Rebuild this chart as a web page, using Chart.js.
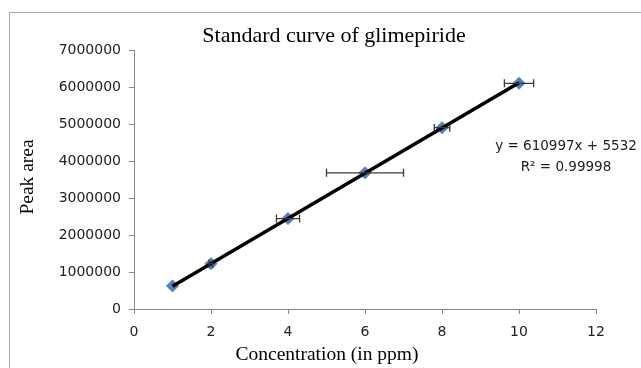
<!DOCTYPE html>
<html>
<head>
<meta charset="utf-8">
<script src="https://cdn.jsdelivr.net/npm/chart.js@4/dist/chart.umd.min.js"></script>
<style>
html,body{margin:0;padding:0;background:#fff;}
#wrap{width:641px;height:368px;position:relative;}
</style>
</head>
<body>
<div id="wrap"><canvas id="c" width="641" height="368"></canvas></div>
<script>
// Data
const concentrations = [1, 2, 4, 6, 8, 10];
const peakAreas = [625000, 1225000, 2445000, 3680000, 4900000, 6100000];
const xErrors = [0, 0.05, 0.3, 1.0, 0.2, 0.38];
const trendX = [1, 10];
const trendY = [616529, 6115502];
const xTicks = [0, 2, 4, 6, 8, 10, 12];
const yTicks = [0, 1000000, 2000000, 3000000, 4000000, 5000000, 6000000, 7000000];
const titleText = 'Standard curve of glimepiride';
const xTitle = 'Concentration (in ppm)';
const yTitle = 'Peak area';
const equationLines = ['y = 610997x + 5532', 'R² = 0.99998'];

const AXIS_GRAY = '#868686';
const TICK_FONT = {family: 'DejaVu Sans', size: 14};

const decorPlugin = {
  id: 'decor',
  beforeDraw(chart) {
    const ctx = chart.ctx;
    ctx.save();
    ctx.fillStyle = '#fff';
    ctx.fillRect(0, 0, chart.width, chart.height);
    ctx.strokeStyle = '#a6a6a6';
    ctx.lineWidth = 1;
    ctx.strokeRect(9.5, 12.5, 700, 400);
    ctx.restore();
  },
  afterDraw(chart) {
    const ctx = chart.ctx;
    ctx.save();
    ctx.fillStyle = '#000';
    ctx.textAlign = 'center';
    ctx.textBaseline = 'middle';
    ctx.font = '22px "Liberation Serif"';
    ctx.fillText(titleText, 334, 36);
    ctx.font = '19.5px "Liberation Serif"';
    ctx.fillText(xTitle, 327, 355);
    ctx.save();
    ctx.translate(28, 177);
    ctx.rotate(-Math.PI / 2);
    ctx.fillText(yTitle, 0, 0);
    ctx.restore();
    ctx.font = '13.5px "DejaVu Sans"';
    ctx.fillStyle = '#222';
    ctx.fillText(equationLines[0], 566, 146);
    ctx.fillText(equationLines[1], 566, 167);
    ctx.restore();
  }
};

const errorBarPlugin = {
  id: 'errorBars',
  afterDatasetsDraw(chart) {
    const xs = chart.scales.x, ys = chart.scales.y;
    const ctx = chart.ctx;
    ctx.save();
    ctx.strokeStyle = '#3a3a3a';
    ctx.lineWidth = 1.3;
    concentrations.forEach((c, i) => {
      const e = xErrors[i];
      if (!e) return;
      const y = ys.getPixelForValue(peakAreas[i]);
      const x1 = xs.getPixelForValue(c - e);
      const x2 = xs.getPixelForValue(c + e);
      ctx.beginPath();
      ctx.moveTo(x1, y); ctx.lineTo(x2, y);
      ctx.moveTo(x1, y - 4); ctx.lineTo(x1, y + 4);
      ctx.moveTo(x2, y - 4); ctx.lineTo(x2, y + 4);
      ctx.stroke();
    });
    ctx.restore();
  }
};

new Chart(document.getElementById('c'), {
  type: 'scatter',
  data: {
    datasets: [
      {
        type: 'line',
        label: 'Trend',
        data: trendX.map((x, i) => ({x: x, y: trendY[i]})),
        borderColor: '#000',
        borderWidth: 3.5,
        pointRadius: 0,
        fill: false,
        order: 0
      },
      {
        label: 'Peak area',
        data: concentrations.map((x, i) => ({x: x, y: peakAreas[i]})),
        pointStyle: 'rectRot',
        pointRadius: 6,
        backgroundColor: '#4F81BD',
        borderColor: '#4F81BD',
        borderWidth: 1,
        order: 1
      }
    ]
  },
  options: {
    responsive: false,
    animation: false,
    layout: {padding: {top: 50, right: 45, left: 0, bottom: 0}},
    plugins: {legend: {display: false}, tooltip: {enabled: false}, title: {display: false}},
    scales: {
      x: {
        type: 'linear',
        min: 0, max: 12,
        afterBuildTicks(s) { s.ticks = xTicks.map(v => ({value: v})); },
        afterFit(s) { s.height = 59; },
        border: {color: AXIS_GRAY, width: 1},
        grid: {display: true, drawOnChartArea: false, drawTicks: true, tickLength: 5, color: AXIS_GRAY},
        ticks: {color: '#222', font: TICK_FONT, padding: 10, maxRotation: 0, callback: v => String(v)}
      },
      y: {
        type: 'linear',
        min: 0, max: 7000000,
        afterBuildTicks(s) { s.ticks = yTicks.map(v => ({value: v})); },
        afterFit(s) { s.width = 134; },
        border: {color: AXIS_GRAY, width: 1},
        grid: {display: true, drawOnChartArea: false, drawTicks: true, tickLength: 5, color: AXIS_GRAY},
        ticks: {color: '#222', font: TICK_FONT, padding: 8, callback: v => String(v)}
      }
    }
  },
  plugins: [decorPlugin, errorBarPlugin]
});
</script>
</body>
</html>
